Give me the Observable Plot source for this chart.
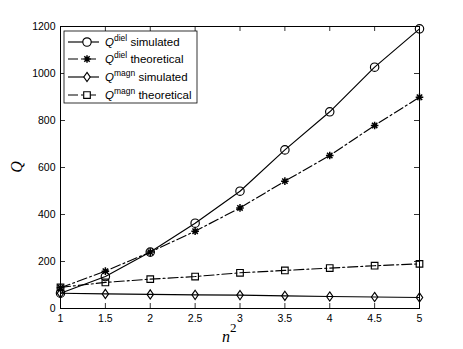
<!DOCTYPE html>
<html><head><meta charset="utf-8">
<script src="https://cdn.jsdelivr.net/npm/d3@7"></script>
<script src="https://cdn.jsdelivr.net/npm/@observablehq/plot@0.6"></script>
<style>body{margin:0;background:#fff}</style>
</head><body><div id="chart"></div>
<script>
const n2 = [1, 1.5, 2, 2.5, 3, 3.5, 4, 4.5, 5];
const dielSim = [65, 136, 240, 363, 499, 675, 837, 1027, 1190];
const dielTheo = [88, 159, 240, 329, 428, 542, 651, 779, 899];
const magnSim = [65, 62, 60, 58, 57, 54, 51, 49, 47];
const magnTheo = [90, 111, 125, 136, 152, 162, 172, 182, 190];
const xTicks = [1, 1.5, 2, 2.5, 3, 3.5, 4, 4.5, 5];
const yTicks = [0, 200, 400, 600, 800, 1000, 1200];
const seriesNames = ["simulated", "theoretical", "simulated", "theoretical"];
const seriesSup = ["diel", "diel", "magn", "magn"];

const W = 463, H = 349, mL = 60, mR = 44, mT = 26, mB = 41;
const pw = W - mL - mR, ph = H - mT - mB;

const circ = {draw(ctx, size){ const r = 4.2; ctx.moveTo(r,0); ctx.arc(0,0,r,0,2*Math.PI); }};
const tallDiamond = {draw(ctx, size){ const w = 3.2, h = 4.6; ctx.moveTo(0,-h); ctx.lineTo(w,0); ctx.lineTo(0,h); ctx.lineTo(-w,0); ctx.closePath(); }};
const sq = {draw(ctx, size){ const s = 3.3; ctx.rect(-s,-s,2*s,2*s); }};
const star = {draw(ctx, size){ const r = 3.8; for (let i=0;i<4;i++){ const a = i*Math.PI/4; ctx.moveTo(-r*Math.cos(a),-r*Math.sin(a)); ctx.lineTo(r*Math.cos(a), r*Math.sin(a)); } }};

const mk = (ys) => n2.map((x,i)=>({x, y: ys[i]}));
const dash = "10,3,2,3";
const lw = 1.15;

const plot = Plot.plot({
  width: W, height: H,
  marginLeft: mL, marginRight: mR, marginTop: mT, marginBottom: mB,
  style: {fontFamily: "'Liberation Sans', Arial, sans-serif", fontSize: "10.5px", background: "white", color: "black"},
  x: {domain: [1, 5], ticks: xTicks, label: null},
  y: {domain: [0, 1200], ticks: yTicks, label: null},
  marks: [
    Plot.axisX(xTicks, {tickSize: 0, tickPadding: 6, tickFormat: d => String(d), fontSize: 10.5}),
    Plot.axisY(yTicks, {tickSize: 0, tickPadding: 5, tickFormat: d => String(d), fontSize: 10.5}),
    Plot.tickX(xTicks, {x: d => d, insetTop: ph - 5, stroke: "black", strokeWidth: 0.8}),
    Plot.tickX(xTicks, {x: d => d, insetBottom: ph - 5, stroke: "black", strokeWidth: 0.8}),
    Plot.tickY(yTicks, {y: d => d, insetRight: pw - 5, stroke: "black", strokeWidth: 0.8}),
    Plot.tickY(yTicks, {y: d => d, insetLeft: pw - 5, stroke: "black", strokeWidth: 0.8}),
    Plot.frame({stroke: "black", strokeWidth: 1}),
    Plot.line(mk(dielSim), {x: "x", y: "y", stroke: "black", strokeWidth: lw}),
    Plot.line(mk(dielTheo), {x: "x", y: "y", stroke: "black", strokeWidth: lw, strokeDasharray: dash}),
    Plot.line(mk(magnSim), {x: "x", y: "y", stroke: "black", strokeWidth: lw}),
    Plot.line(mk(magnTheo), {x: "x", y: "y", stroke: "black", strokeWidth: lw, strokeDasharray: dash}),
    Plot.dot(mk(dielSim), {x: "x", y: "y", symbol: circ, r: 4, stroke: "black", fill: "none", strokeWidth: lw}),
    Plot.dot(mk(dielTheo), {x: "x", y: "y", symbol: star, r: 4, stroke: "black", fill: "none", strokeWidth: 1.5}),
    Plot.dot(mk(magnSim), {x: "x", y: "y", symbol: tallDiamond, r: 4, stroke: "black", fill: "none", strokeWidth: lw}),
    Plot.dot(mk(magnTheo), {x: "x", y: "y", symbol: sq, r: 4, stroke: "black", fill: "none", strokeWidth: lw})
  ]
});

const svg = d3.select(plot);
// axis titles
svg.append("text").attr("transform", `translate(22,${mT + ph/2}) rotate(-90)`)
  .attr("text-anchor", "middle").attr("font-family", "'Liberation Serif', 'DejaVu Serif', serif")
  .attr("font-style", "italic").attr("font-size", 16).attr("fill", "black").text("Q");
const xl = svg.append("text").attr("x", 222).attr("y", 342)
  .attr("text-anchor", "start").attr("font-family", "'Liberation Serif', 'DejaVu Serif', serif")
  .attr("font-style", "italic").attr("font-size", 16).attr("fill", "black");
xl.append("tspan").text("n");
xl.append("tspan").attr("dy", -10).attr("font-style", "normal").attr("font-size", 13).text("2");

// legend
const lg = svg.append("g").attr("text-anchor", "start");
lg.append("rect").attr("x", 64).attr("y", 31).attr("width", 133).attr("height", 72)
  .attr("fill", "white").attr("stroke", "black").attr("stroke-width", 0.8);
const rowsY = [42, 59, 77, 95];
const dashes = [null, dash, null, dash];
const symbols = [circ, star, tallDiamond, sq];
rowsY.forEach((yy, i) => {
  const l = lg.append("line").attr("x1", 68).attr("x2", 99).attr("y1", yy).attr("y2", yy)
    .attr("stroke", "black").attr("stroke-width", lw);
  if (dashes[i]) l.attr("stroke-dasharray", dash);
  lg.append("path").attr("transform", `translate(87,${yy})`).attr("d", d3.symbol(symbols[i])())
    .attr("fill", i===1?"none":"white").attr("stroke", "black").attr("stroke-width", i===1?1.5:lw);
  const t = lg.append("text").attr("x", 105).attr("y", yy + 4).attr("font-size", 11.5).attr("fill", "black")
    .attr("text-anchor", "start").attr("font-family", "'Liberation Sans', Arial, sans-serif");
  t.append("tspan").attr("font-style", "italic").attr("fill", "black").text("Q");
  t.append("tspan").attr("dy", -5).attr("font-size", 8.5).attr("fill", "black").text(seriesSup[i]);
  t.append("tspan").attr("dy", 5).attr("fill", "black").text(" " + seriesNames[i]);
});

document.getElementById("chart").appendChild(plot);
</script>
</body></html>
